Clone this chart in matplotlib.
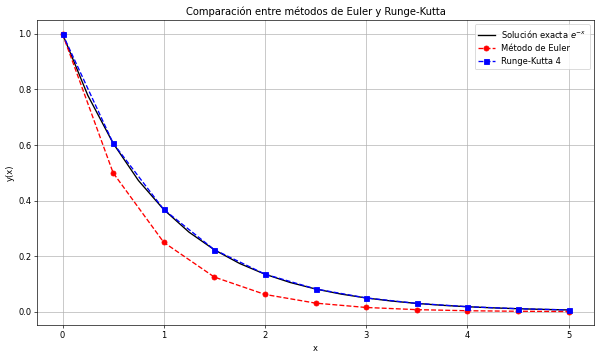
import matplotlib
matplotlib.use("Agg")
import matplotlib.pyplot as plt

# Puntos de la solución exacta e^{-x} (paso 0.25)
x_exacta = [0.0, 0.25, 0.5, 0.75, 1.0, 1.25, 1.5, 1.75, 2.0, 2.25, 2.5,
            2.75, 3.0, 3.25, 3.5, 3.75, 4.0, 4.25, 4.5, 4.75, 5.0]
y_exacta = [1.0, 0.7788, 0.6065, 0.4724, 0.3679, 0.2865, 0.2231, 0.1738,
            0.1353, 0.1054, 0.0821, 0.0639, 0.0498, 0.0388, 0.0302, 0.0235,
            0.0183, 0.0143, 0.0111, 0.0087, 0.0067]

# Métodos numéricos con h = 0.5
x_num = [0.0, 0.5, 1.0, 1.5, 2.0, 2.5, 3.0, 3.5, 4.0, 4.5, 5.0]
y_euler = [1.0, 0.5, 0.25, 0.125, 0.0625, 0.03125, 0.015625, 0.0078,
           0.0039, 0.0020, 0.0010]
y_rk4 = [1.0, 0.6068, 0.3682, 0.2234, 0.1355, 0.0823, 0.0499, 0.0303,
         0.0184, 0.0112, 0.0068]

fig = plt.figure(figsize=(10, 5.967), dpi=60)
plt.plot(x_exacta, y_exacta, 'k-', lw=1.6, label='Solución exacta $e^{-x}$')
plt.plot(x_num, y_euler, 'ro--', lw=1.6, label='Método de Euler')
plt.plot(x_num, y_rk4, 'bs--', lw=1.6, label='Runge-Kutta 4')
plt.xlabel('x')
plt.ylabel('y(x)')
plt.title('Comparación entre métodos de Euler y Runge-Kutta')
plt.legend()
plt.grid(True)
plt.subplots_adjust(left=0.062, right=0.99, top=0.944, bottom=0.091)
plt.savefig('out.png', dpi=60)
